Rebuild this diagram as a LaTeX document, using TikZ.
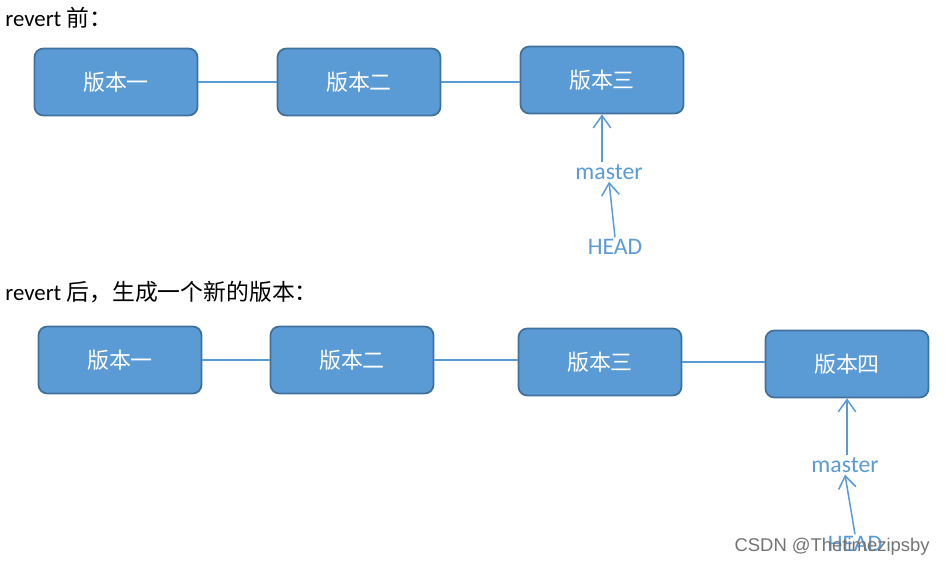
\documentclass[tikz,border=0pt]{standalone}
\usepackage{fontspec}
\setmainfont{Carlito}
\newfontfamily\cjk{Noto Sans CJK SC}
\newfontfamily\wmfont{Liberation Sans}
\usetikzlibrary{arrows.meta}
\definecolor{boxblue}{HTML}{5B9BD5}
\definecolor{boxedge}{HTML}{41719C}
\begin{document}
\begin{tikzpicture}[x=0.02cm, y=-0.02cm, >={Straight Barb[length=7pt,width=10pt]},
    block/.style={draw=boxedge, fill=boxblue, line width=1pt, rounded corners=5pt, minimum width=3.26cm, minimum height=1.34cm, text=white, font=\fontsize{12.5}{14}\cjk\selectfont},
    link/.style={draw=boxblue, line width=0.85pt},
    pointer/.style={text=boxblue, inner sep=1pt, font=\fontsize{13.5}{16}\selectfont},
    caption/.style={anchor=west, inner sep=0pt, font=\fontsize{13}{16}\selectfont}]
    \useasboundingbox (0,0) rectangle (946,567);

    % revert 前
    \node[caption] (t1) at (5,18) {revert {\cjk 前：}};
    \node[block] (a1) at (116,82) {版本一};
    \node[block] (a2) at (359,82) {版本二};
    \node[block] (a3) at (602,80) {版本三};
    \node[pointer] (m1) at (609,172) {master};
    \node[pointer] (h1) at (615,247) {HEAD};

    \draw[link] (a1) -- (a2);
    \draw[link] (a2) -- (a2 -| a3.west);
    \draw[->, link] (m1.north -| a3.south) -- (a3.south);
    \draw[->, link] (h1.north) -- (m1.south);

    % revert 后
    \node[caption] (t2) at (5,292) {revert {\cjk 后，生成一个新的版本：}};
    \node[block] (b1) at (120,360) {版本一};
    \node[block] (b2) at (352,360) {版本二};
    \node[block] (b3) at (600,362) {版本三};
    \node[block] (b4) at (847,364) {版本四};
    \node[pointer] (m2) at (845,465) {master};
    \node[pointer] (h2) at (855,544) {HEAD};

    \draw[link] (b1) -- (b2);
    \draw[link] (b2) -- (b2 -| b3.west);
    \draw[link] (b3) -- (b3 -| b4.west);
    \draw[->, link] (m2.north -| b4.south) -- (b4.south);
    \draw[->, link] (h2.north) -- (m2.south);

    % 水印
    \node[anchor=east, inner sep=0pt, text=black!55, font=\fontsize{10.5}{12}\wmfont] (wm) at (930,547) {CSDN @Thetimezipsby};
\end{tikzpicture}
\end{document}
